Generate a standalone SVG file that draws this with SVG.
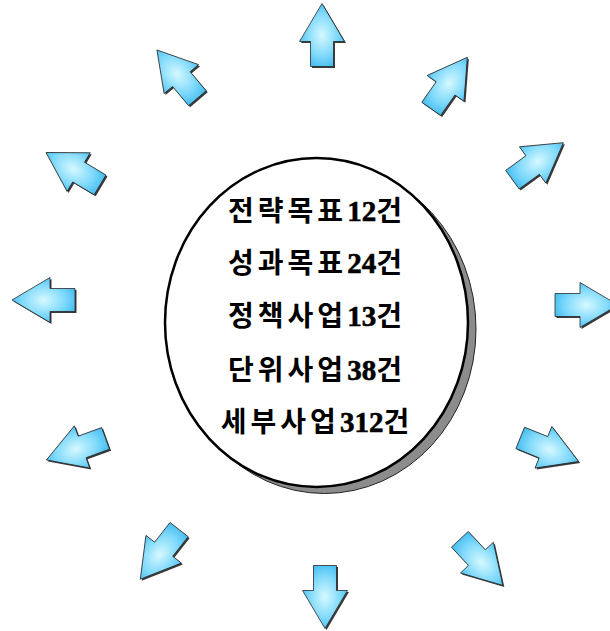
<svg xmlns="http://www.w3.org/2000/svg" xmlns:xlink="http://www.w3.org/1999/xlink" width="610" height="631" viewBox="0 0 610 631">
<style>
.sh{fill:#3a3a3a;}
.ar{fill:url(#g);stroke:#2a2a2a;stroke-width:0.8;stroke-linejoin:miter;}
.t{font-family:"Liberation Serif","Noto Sans CJK KR",serif;font-weight:bold;font-size:28px;fill:#000;letter-spacing:4px;}
.d{letter-spacing:0;stroke:#000;stroke-width:0.6;font-size:29px;}
</style>
<defs>
<radialGradient id="g" cx="0.5" cy="0.5" r="0.62">
<stop offset="0" stop-color="#d6f9ff"/>
<stop offset="0.55" stop-color="#7fd9fb"/>
<stop offset="1" stop-color="#2eb2ec"/>
</radialGradient>
<polygon id="a" points="0,-32 22.5,6 11.5,6 11.5,31 -11.5,31 -11.5,6 -22.5,6"/>
</defs>
<rect width="610" height="631" fill="#fff"/>
<g id="center">
<ellipse cx="324.5" cy="329" rx="151.5" ry="164.5" fill="#8c8c8c" stroke="#222" stroke-width="1"/>
<ellipse cx="316.5" cy="322.5" rx="151.5" ry="164.5" fill="#fff" stroke="#000" stroke-width="2.5"/>
<text class="t" x="317" y="221" text-anchor="middle">전략목표<tspan class="d">12</tspan>건</text>
<text class="t" x="317" y="273" text-anchor="middle">성과목표<tspan class="d">24</tspan>건</text>
<text class="t" x="317" y="326" text-anchor="middle">정책사업<tspan class="d">13</tspan>건</text>
<text class="t" x="317" y="380" text-anchor="middle">단위사업<tspan class="d">38</tspan>건</text>
<text class="t" x="317" y="432" text-anchor="middle">세부사업<tspan class="d">312</tspan>건</text>
</g>
<g id="arrows">
<g id="arrow-n" transform="translate(322,35.5)"><use class="sh" xlink:href="#a" href="#a" transform="translate(1.5,1.5) rotate(0)"/><use class="ar" xlink:href="#a" href="#a" transform="rotate(0)"/></g>
<g id="arrow-nne" transform="translate(449,83.5)"><use class="sh" xlink:href="#a" href="#a" transform="translate(1.5,1.5) rotate(35)"/><use class="ar" xlink:href="#a" href="#a" transform="rotate(35)"/></g>
<g id="arrow-ene" transform="translate(537.5,161.5)"><use class="sh" xlink:href="#a" href="#a" transform="translate(1.5,1.5) rotate(54)"/><use class="ar" xlink:href="#a" href="#a" transform="rotate(54)"/></g>
<g id="arrow-e" transform="translate(586,305)"><use class="sh" xlink:href="#a" href="#a" transform="translate(1.5,1.5) rotate(90)"/><use class="ar" xlink:href="#a" href="#a" transform="rotate(90)"/></g>
<g id="arrow-ese" transform="translate(549,449.5)"><use class="sh" xlink:href="#a" href="#a" transform="translate(1.5,1.5) rotate(112)"/><use class="ar" xlink:href="#a" href="#a" transform="rotate(112)"/></g>
<g id="arrow-sse" transform="translate(481,562)"><use class="sh" xlink:href="#a" href="#a" transform="translate(1.5,1.5) rotate(137)"/><use class="ar" xlink:href="#a" href="#a" transform="rotate(137)"/></g>
<g id="arrow-s" transform="translate(325,596.5)"><use class="sh" xlink:href="#a" href="#a" transform="translate(1.5,1.5) rotate(180)"/><use class="ar" xlink:href="#a" href="#a" transform="rotate(180)"/></g>
<g id="arrow-ssw" transform="translate(160,554)"><use class="sh" xlink:href="#a" href="#a" transform="translate(1.5,1.5) rotate(218)"/><use class="ar" xlink:href="#a" href="#a" transform="rotate(218)"/></g>
<g id="arrow-wsw" transform="translate(76.5,449)"><use class="sh" xlink:href="#a" href="#a" transform="translate(1.5,1.5) rotate(250)"/><use class="ar" xlink:href="#a" href="#a" transform="rotate(250)"/></g>
<g id="arrow-w" transform="translate(44,300)"><use class="sh" xlink:href="#a" href="#a" transform="translate(1.5,1.5) rotate(270)"/><use class="ar" xlink:href="#a" href="#a" transform="rotate(270)"/></g>
<g id="arrow-wnw" transform="translate(73.5,169)"><use class="sh" xlink:href="#a" href="#a" transform="translate(1.5,1.5) rotate(301)"/><use class="ar" xlink:href="#a" href="#a" transform="rotate(301)"/></g>
<g id="arrow-nnw" transform="translate(177.5,74.5)"><use class="sh" xlink:href="#a" href="#a" transform="translate(1.5,1.5) rotate(320)"/><use class="ar" xlink:href="#a" href="#a" transform="rotate(320)"/></g>
</g>
</svg>
